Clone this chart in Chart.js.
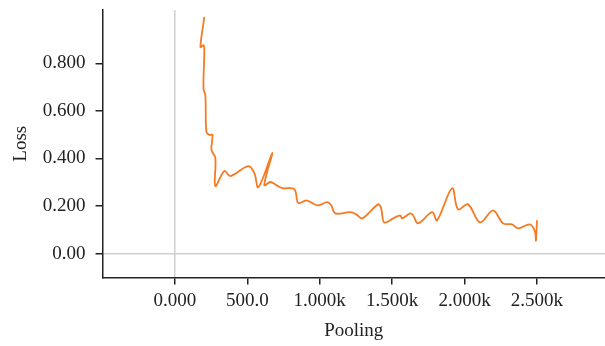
<!DOCTYPE html>
<html lang="en">
  <head>
    <meta charset="UTF-8" />
    <title>Loss vs Pooling</title>
    <style>
      html,
      body {
        margin: 0;
        padding: 0;
        background: #fff;
      }
      .wrap {
        width: 605px;
        height: 346px;
        position: relative;
      }
    </style>
    <script src="https://cdn.jsdelivr.net/npm/chart.js"></script>
  </head>
  <body>
    <div class="wrap">
      <canvas id="lossChart"></canvas>
    </div>
    <script>
      // values
      const pooling = [
        203, 176, 197, 203, 197, 210, 217, 238, 259, 252, 279, 279, 341, 383,
        507, 548, 576, 672, 617, 659, 700, 741, 824, 852, 907, 948, 990, 1052,
        1079, 1107, 1210, 1252, 1293, 1403, 1424, 1445, 1507, 1555, 1569, 1624,
        1645, 1679, 1776, 1810, 1914, 1955, 2024, 2107, 2197, 2266, 2328, 2369,
        2452, 2486, 2493, 2500,
      ];
      const loss = [
        0.995, 0.868, 0.876, 0.855, 0.694, 0.665, 0.512, 0.499, 0.499, 0.436,
        0.402, 0.284, 0.347, 0.326, 0.368, 0.339, 0.279, 0.423, 0.288, 0.301,
        0.288, 0.275, 0.271, 0.212, 0.224, 0.212, 0.203, 0.216, 0.203, 0.169,
        0.174, 0.165, 0.148, 0.207, 0.19, 0.131, 0.148, 0.161, 0.148, 0.169,
        0.161, 0.127, 0.174, 0.14, 0.275, 0.186, 0.207, 0.131, 0.182, 0.127,
        0.123, 0.106, 0.123, 0.093, 0.055, 0.14,
      ];
      const xTicks = [0, 500, 1000, 1500, 2000, 2500];
      const yTicks = [0, 0.2, 0.4, 0.6, 0.8];

      const points = pooling.map((x, i) => ({ x: x, y: loss[i] }));

      const font = { family: "'Liberation Serif', serif", size: 19 };
      const ink = "#222";

      function xLabel(v) {
        if (v === 0) return "0.000";
        if (v < 1000) return v.toFixed(1);
        return (v / 1000).toFixed(3) + "k";
      }
      function yLabel(v) {
        if (v === 0) return "0.00";
        return v.toFixed(3);
      }

      new Chart(document.getElementById("lossChart"), {
        type: "line",
        data: {
          datasets: [
            {
              label: "Loss",
              data: points,
              borderColor: "#f57a22",
              borderWidth: 1.8,
              pointRadius: 0,
              tension: 0.35,
              fill: false,
            },
          ],
        },
        options: {
          responsive: true,
          maintainAspectRatio: false,
          animation: false,
          layout: { padding: { top: 10, right: 0, bottom: 4, left: 4 } },
          plugins: {
            legend: { display: false },
            tooltip: { enabled: false },
          },
          scales: {
            x: {
              type: "linear",
              min: -500,
              max: 2970,
              afterBuildTicks: (axis) => {
                axis.ticks = xTicks.map((v) => ({ value: v }));
              },
              ticks: {
                color: ink,
                font: font,
                padding: 5,
                maxRotation: 0,
                callback: (v) => xLabel(v),
              },
              grid: {
                color: (c) =>
                  c.tick && c.tick.value === 0 ? "#cfcfcf" : "transparent",
                tickColor: ink,
                tickLength: 7,
                lineWidth: 1.5,
              },
              border: { color: ink, width: 1.5 },
              title: {
                display: true,
                text: "Pooling",
                color: ink,
                font: font,
                padding: { top: 2, bottom: 0 },
              },
            },
            y: {
              type: "linear",
              min: -0.1,
              max: 1.024,
              afterBuildTicks: (axis) => {
                axis.ticks = yTicks.map((v) => ({ value: v }));
              },
              afterFit: (axis) => {
                // the top tick is well below the axis end, no label room needed
                axis.paddingTop = 0;
              },
              ticks: {
                color: ink,
                font: font,
                padding: 10,
                callback: (v) => yLabel(v),
              },
              grid: {
                color: (c) =>
                  c.tick && c.tick.value === 0 ? "#cfcfcf" : "transparent",
                tickColor: ink,
                tickLength: 7,
                lineWidth: 1.5,
              },
              border: { color: ink, width: 1.5 },
              title: {
                display: true,
                text: "Loss",
                color: ink,
                font: font,
                padding: { top: 6, bottom: 0 },
              },
            },
          },
        },
      });
    </script>
  </body>
</html>
